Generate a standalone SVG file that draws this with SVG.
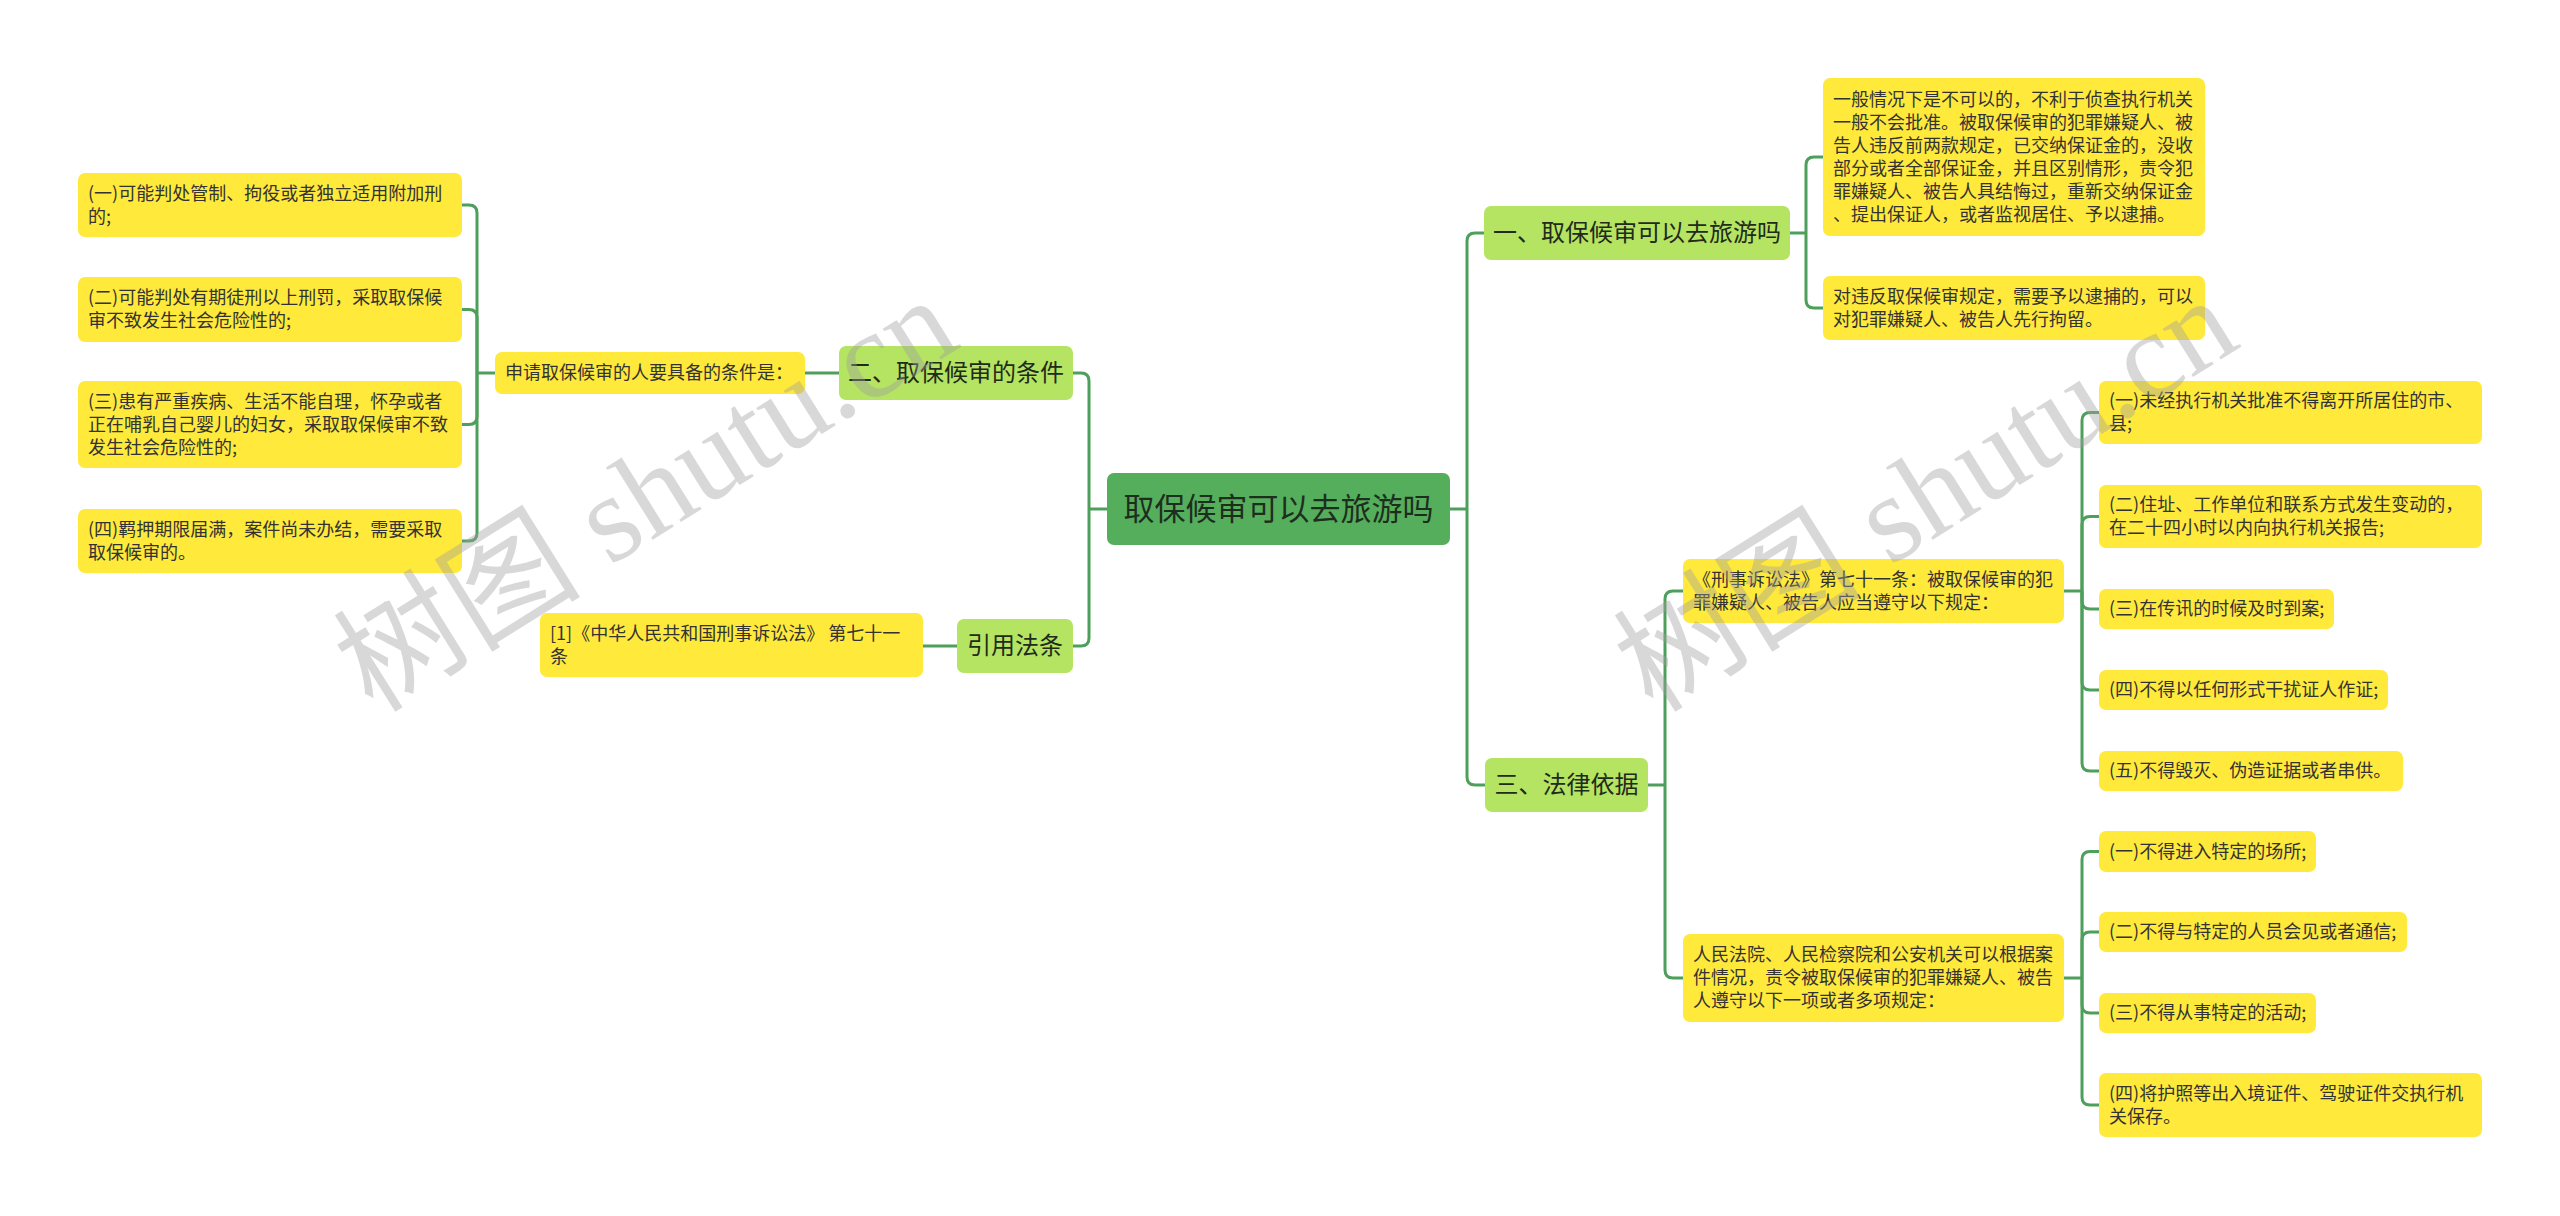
<svg xmlns="http://www.w3.org/2000/svg" width="2560" height="1216" viewBox="0 0 2560 1216">
<style>
.y{fill:#FFE93B}
.g{fill:#B4E462}
.r{fill:#55AE5C}
.t{font-family:"Noto Sans CJK SC","Liberation Sans",sans-serif;font-size:18px;fill:#333333}
.t1{font-family:"Noto Sans CJK SC","Liberation Sans",sans-serif;font-size:24px;fill:#222a1a;text-anchor:middle}
.t0{font-family:"Noto Sans CJK SC","Liberation Sans",sans-serif;font-size:31px;fill:#1e2e1e;text-anchor:middle}
.c path{fill:none;stroke:#4E9F5B;stroke-width:3}
.wm{font-family:"Liberation Serif","Noto Sans CJK SC",serif;font-size:124px;fill:#a0a0a0;opacity:0.4;text-anchor:middle}
</style>
<rect width="2560" height="1216" fill="#ffffff"/>
<g class="c" id="connectors">
<path d="M1107,509 H1089"/>
<path d="M1089,509 V381 Q1089,373 1081,373 H1073"/>
<path d="M1089,509 V638 Q1089,646 1081,646 H1073"/>
<path d="M839,373 H805"/>
<path d="M957,646 H923"/>
<path d="M495,373 H477"/>
<path d="M477,373 V213 Q477,205 469,205 H462"/>
<path d="M477,373 V317.5 Q477,309.5 469,309.5 H462"/>
<path d="M477,373 V416.5 Q477,424.5 469,424.5 H462"/>
<path d="M477,373 V533 Q477,541 469,541 H462"/>
<path d="M1450,509 H1467"/>
<path d="M1467,509 V241 Q1467,233 1475,233 H1484"/>
<path d="M1467,509 V777 Q1467,785 1475,785 H1485"/>
<path d="M1790,233 H1806"/>
<path d="M1806,233 V165 Q1806,157 1814,157 H1823"/>
<path d="M1806,233 V300 Q1806,308 1814,308 H1823"/>
<path d="M1648,785 H1665"/>
<path d="M1665,785 V599 Q1665,591 1673,591 H1683"/>
<path d="M1665,785 V970 Q1665,978 1673,978 H1683"/>
<path d="M2064,591 H2082"/>
<path d="M2082,591 V420.5 Q2082,412.5 2090,412.5 H2099"/>
<path d="M2082,591 V524.5 Q2082,516.5 2090,516.5 H2099"/>
<path d="M2082,591 V601 Q2082,609 2090,609 H2099"/>
<path d="M2082,591 V682 Q2082,690 2090,690 H2099"/>
<path d="M2082,591 V763 Q2082,771 2090,771 H2099"/>
<path d="M2064,978 H2082"/>
<path d="M2082,978 V859.5 Q2082,851.5 2090,851.5 H2099"/>
<path d="M2082,978 V940 Q2082,932 2090,932 H2099"/>
<path d="M2082,978 V1005 Q2082,1013 2090,1013 H2099"/>
<path d="M2082,978 V1097 Q2082,1105 2090,1105 H2099"/>
</g>
<g id="root"><rect class="r" x="1107" y="473" width="343" height="72" rx="7"/><text class="t0" x="1278.5" y="520">取保候审可以去旅游吗</text></g>
<g id="n2"><rect class="g" x="839" y="346" width="234" height="54" rx="7"/><text class="t1" x="956" y="381">二、取保候审的条件</text></g>
<g id="n4"><rect class="g" x="957" y="619" width="116" height="54" rx="7"/><text class="t1" x="1015" y="654">引用法条</text></g>
<g id="n1"><rect class="g" x="1484" y="206" width="306" height="54" rx="7"/><text class="t1" x="1637" y="241">一、取保候审可以去旅游吗</text></g>
<g id="n3"><rect class="g" x="1485" y="758" width="163" height="54" rx="7"/><text class="t1" x="1566.5" y="793">三、法律依据</text></g>
<g id="n2a"><rect class="y" x="495" y="352" width="310" height="42" rx="7"/><text class="t" x="505" y="379">申请取保候审的人要具备的条件是：</text></g>
<g id="n2a1"><rect class="y" x="78" y="173" width="384" height="64" rx="7"/><text class="t" x="88" y="200">(一)可能判处管制、拘役或者独立适用附加刑</text><text class="t" x="88" y="223">的;</text></g>
<g id="n2a2"><rect class="y" x="78" y="277" width="384" height="65" rx="7"/><text class="t" x="88" y="304">(二)可能判处有期徒刑以上刑罚，采取取保候</text><text class="t" x="88" y="327">审不致发生社会危险性的;</text></g>
<g id="n2a3"><rect class="y" x="78" y="381" width="384" height="87" rx="7"/><text class="t" x="88" y="408">(三)患有严重疾病、生活不能自理，怀孕或者</text><text class="t" x="88" y="431">正在哺乳自己婴儿的妇女，采取取保候审不致</text><text class="t" x="88" y="454">发生社会危险性的;</text></g>
<g id="n2a4"><rect class="y" x="78" y="509" width="384" height="64" rx="7"/><text class="t" x="88" y="536">(四)羁押期限届满，案件尚未办结，需要采取</text><text class="t" x="88" y="559">取保候审的。</text></g>
<g id="n4a"><rect class="y" x="540" y="613" width="383" height="64" rx="7"/><text class="t" x="550" y="640">[1]《中华人民共和国刑事诉讼法》 第七十一</text><text class="t" x="550" y="663">条</text></g>
<g id="n1a"><rect class="y" x="1823" y="78" width="382" height="158" rx="7"/>
<text class="t" x="1833" y="106">一般情况下是不可以的，不利于侦查执行机关</text>
<text class="t" x="1833" y="129">一般不会批准。被取保候审的犯罪嫌疑人、被</text>
<text class="t" x="1833" y="152">告人违反前两款规定，已交纳保证金的，没收</text>
<text class="t" x="1833" y="175">部分或者全部保证金，并且区别情形，责令犯</text>
<text class="t" x="1833" y="198">罪嫌疑人、被告人具结悔过，重新交纳保证金</text>
<text class="t" x="1833" y="221">、提出保证人，或者监视居住、予以逮捕。</text></g>
<g id="n1b"><rect class="y" x="1823" y="276" width="382" height="64" rx="7"/><text class="t" x="1833" y="303">对违反取保候审规定，需要予以逮捕的，可以</text><text class="t" x="1833" y="326">对犯罪嫌疑人、被告人先行拘留。</text></g>
<g id="n3a"><rect class="y" x="1683" y="559" width="381" height="64" rx="7"/><text class="t" x="1693" y="586">《刑事诉讼法》第七十一条：被取保候审的犯</text><text class="t" x="1693" y="609">罪嫌疑人、被告人应当遵守以下规定：</text></g>
<g id="n3b"><rect class="y" x="1683" y="934" width="381" height="88" rx="7"/><text class="t" x="1693" y="961">人民法院、人民检察院和公安机关可以根据案</text><text class="t" x="1693" y="984">件情况，责令被取保候审的犯罪嫌疑人、被告</text><text class="t" x="1693" y="1007">人遵守以下一项或者多项规定：</text></g>
<g id="n3a1"><rect class="y" x="2099" y="381" width="383" height="63" rx="7"/><text class="t" x="2109" y="407">(一)未经执行机关批准不得离开所居住的市、</text><text class="t" x="2109" y="430">县;</text></g>
<g id="n3a2"><rect class="y" x="2099" y="485" width="383" height="63" rx="7"/><text class="t" x="2109" y="511">(二)住址、工作单位和联系方式发生变动的，</text><text class="t" x="2109" y="534">在二十四小时以内向执行机关报告;</text></g>
<g id="n3a3"><rect class="y" x="2099" y="589" width="235" height="40" rx="7"/><text class="t" x="2109" y="615">(三)在传讯的时候及时到案;</text></g>
<g id="n3a4"><rect class="y" x="2099" y="670" width="289" height="40" rx="7"/><text class="t" x="2109" y="696">(四)不得以任何形式干扰证人作证;</text></g>
<g id="n3a5"><rect class="y" x="2099" y="751" width="304" height="40" rx="7"/><text class="t" x="2109" y="777">(五)不得毁灭、伪造证据或者串供。</text></g>
<g id="n3b1"><rect class="y" x="2099" y="831" width="217" height="41" rx="7"/><text class="t" x="2109" y="858">(一)不得进入特定的场所;</text></g>
<g id="n3b2"><rect class="y" x="2099" y="912" width="308" height="40" rx="7"/><text class="t" x="2109" y="938">(二)不得与特定的人员会见或者通信;</text></g>
<g id="n3b3"><rect class="y" x="2099" y="993" width="217" height="40" rx="7"/><text class="t" x="2109" y="1019">(三)不得从事特定的活动;</text></g>
<g id="n3b4"><rect class="y" x="2099" y="1073" width="383" height="64" rx="7"/><text class="t" x="2109" y="1100">(四)将护照等出入境证件、驾驶证件交执行机</text><text class="t" x="2109" y="1123">关保存。</text></g>
<text class="wm" transform="translate(668,530) rotate(-32)">树图 shutu.cn</text>
<text class="wm" transform="translate(1948,530) rotate(-32)">树图 shutu.cn</text>
</svg>
